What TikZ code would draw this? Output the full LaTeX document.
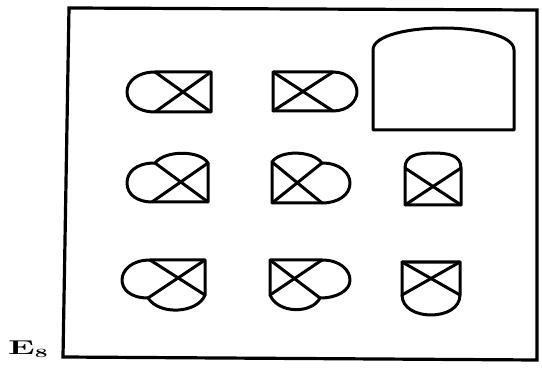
\documentclass[tikz,border=0pt]{standalone}
\usepackage{fontspec}
\begin{document}
\begin{tikzpicture}[x=1pt, y=-1pt, sym/.style={line width=3pt, line join=round, line cap=round}, frame/.style={line width=3.2pt, line join=miter}]
\useasboundingbox (0,0) rectangle (542,369);
\draw[frame] (69,8) -- (537,10) -- (537,360) -- (63,357) -- cycle;
\node[anchor=base west, inner sep=0pt] (lbl) at (8,354) {\scalebox{1.9}[1.05]{\fontsize{19}{19}\selectfont\bfseries E\raisebox{-0.45ex}{\fontsize{12}{12}\selectfont 8}}};
\draw[sym] (155,72) -- (211,72) -- (211,112) -- (155,112) .. controls (138,112) and (127,103) .. (127,92) .. controls (127,81) and (138,72) .. (155,72);
\draw[sym] (155,72) -- (211,112);
\draw[sym] (211,72) -- (155,112);
\draw[sym] (333,72) -- (273,72) -- (273,111) -- (333,111) .. controls (348,111) and (357,101) .. (357,92) .. controls (357,82) and (348,72) .. (333,72);
\draw[sym] (273,72) -- (333,111);
\draw[sym] (333,72) -- (273,111);
\draw[sym] (373,130) -- (373,50) .. controls (373,35) and (410,28) .. (443,28) .. controls (476,28) and (514,35) .. (514,50) -- (514,130) -- cycle;
\draw[sym] (208,202) -- (208,163) .. controls (200,150) and (165,150) .. (155,163) .. controls (135,163) and (127,173) .. (127,183) .. controls (127,195) and (138,202) .. (152,202) -- cycle;
\draw[sym] (155,163) -- (208,202);
\draw[sym] (208,163) -- (152,202);
\draw[sym] (322,203) -- (272,203) -- (272,162) .. controls (280,150) and (312,150) .. (322,163) .. controls (340,163) and (350,173) .. (350,183) .. controls (350,195) and (338,203) .. (322,203);
\draw[sym] (272,162) -- (322,203);
\draw[sym] (272,203) -- (322,163);
\draw[sym] (405,168) -- (405,205) -- (461,205) -- (461,168) .. controls (461,155) and (448,153) .. (433,153) .. controls (418,153) and (405,155) .. (405,168);
\draw[sym] (405,168) -- (461,205);
\draw[sym] (461,168) -- (405,205);
\draw[sym] (150,260) -- (205,260) -- (205,295) .. controls (198,313) and (160,316) .. (148,298) .. controls (130,298) and (122,289) .. (122,280) .. controls (122,270) and (132,260) .. (150,260);
\draw[sym] (150,260) -- (205,295);
\draw[sym] (205,260) -- (148,298);
\draw[sym] (270,295) -- (270,260) -- (322,260) .. controls (340,260) and (350,270) .. (350,280) .. controls (350,290) and (338,298) .. (320,298) .. controls (312,314) and (278,314) .. (270,295);
\draw[sym] (270,260) -- (320,298);
\draw[sym] (322,260) -- (270,295);
\draw[sym] (402,295) -- (402,262) -- (460,262) -- (460,295) .. controls (460,308) and (446,315) .. (431,315) .. controls (416,315) and (402,308) .. (402,295);
\draw[sym] (402,262) -- (460,295);
\draw[sym] (460,262) -- (402,295);
\end{tikzpicture}
\end{document}
